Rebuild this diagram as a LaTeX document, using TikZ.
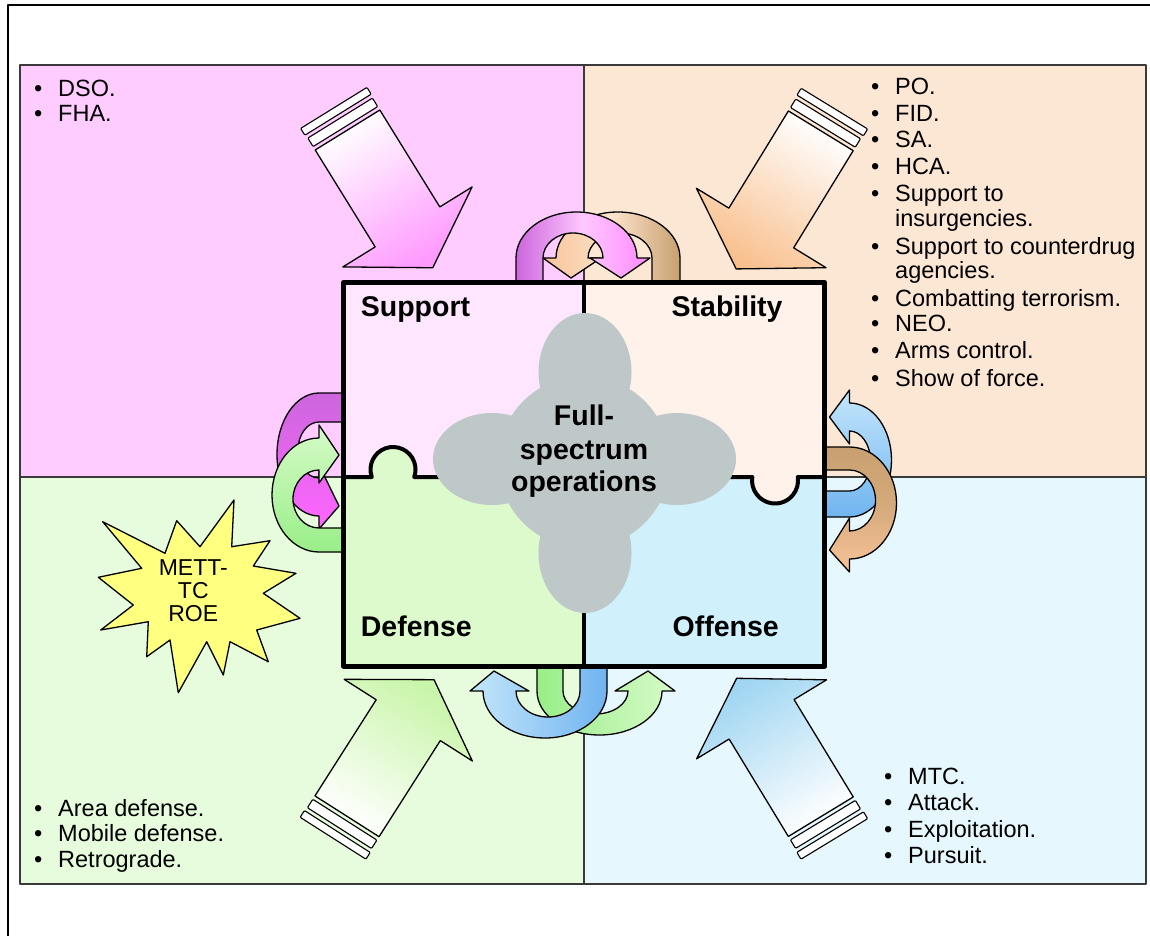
\documentclass[tikz,border=0pt]{standalone}
\usepackage{fontspec}
\setmainfont{Liberation Sans}
\usetikzlibrary{calc}
\definecolor{panelTL}{HTML}{FFCCFF}
\definecolor{panelTR}{HTML}{FCE6D4}
\definecolor{panelBL}{HTML}{E6FCDC}
\definecolor{panelBR}{HTML}{E6F8FD}
\definecolor{supC}{HTML}{FFE6FF}
\definecolor{stabC}{HTML}{FEF2EA}
\definecolor{defC}{HTML}{DDFACC}
\definecolor{offC}{HTML}{D0F1FB}
\definecolor{cloudC}{HTML}{BFC8C8}
\definecolor{starC}{HTML}{FFFF80}
\definecolor{purpC}{HTML}{CC66DD}
\definecolor{pinkL}{HTML}{FFC8FF}
\definecolor{pinkH}{HTML}{FF88FF}
\definecolor{magC}{HTML}{FF66FF}
\definecolor{brownC}{HTML}{C8A070}
\definecolor{peachH}{HTML}{F8C49A}
\definecolor{peachL}{HTML}{FDE3CC}
\definecolor{greenC}{HTML}{99EE88}
\definecolor{lgreenH}{HTML}{D6FBC8}
\definecolor{blueC}{HTML}{70B4F0}
\definecolor{lblueH}{HTML}{C4E6FB}
\definecolor{bigPink}{HTML}{FF99FF}
\definecolor{bigPeach}{HTML}{F9C08E}
\definecolor{bigGreen}{HTML}{C8F5A8}
\definecolor{bigBlue}{HTML}{A0D6F2}
\definecolor{panelLine}{HTML}{3A3A3A}
\newcommand\listfont{\fontsize{23.5}{27}\selectfont}
\newcommand\lblfont{\fontsize{28.5}{33}\selectfont\bfseries}
% frame maps for curved arrows: u along edge, v away from square
\def\mapT{\pgfmathsetmacro\cPx{\cUu}\pgfmathsetmacro\cPy{280-\cVv}}
\def\mapB{\pgfmathsetmacro\cPx{\cUu}\pgfmathsetmacro\cPy{669+\cVv}}
\def\mapL{\pgfmathsetmacro\cPx{341-\cVv}\pgfmathsetmacro\cPy{\cUu}}
\def\mapR{\pgfmathsetmacro\cPx{827.5+\cVv}\pgfmathsetmacro\cPy{\cUu}}
\newcommand\cpnt[3]{\pgfmathsetmacro\cUu{#2}\pgfmathsetmacro\cVv{#3}\csname map\cFr\endcsname\coordinate (#1) at (\cPx,\cPy);}
\newcommand\curvarr[8]{%
 \def\cFr{#1}%
 \pgfmathsetmacro\cAo{#2}\pgfmathsetmacro\cAi{#3}\pgfmathsetmacro\cHo{#4}\pgfmathsetmacro\cHi{#5}%
 \pgfmathsetmacro\cTp{#6}\pgfmathsetmacro\cHh{#7}%
 \pgfmathsetmacro\cMo{(\cAo+\cHo)/2}\pgfmathsetmacro\cMi{(\cAi+\cHi)/2}%
 \pgfmathsetmacro\cHn{\cHh-21}%
 \pgfmathsetmacro\cSg{(\cHo>\cHi)?1:-1}%
 \cpnt{o0}{\cAo}{-4}\cpnt{o1}{\cAo}{22}\cpnt{oc1}{\cAo}{22+0.552*(\cHh-22)}%
 \cpnt{oc2}{\cMo+0.552*(\cAo-\cMo)}{\cHh}\cpnt{o2}{\cMo}{\cHh}%
 \cpnt{oc3}{\cMo+0.552*(\cHo-\cMo)}{\cHh}\cpnt{oc4}{\cHo}{22+0.552*(\cHh-22)}\cpnt{o4}{\cHo}{22}%
 \cpnt{h1}{\cHo+\cSg*13}{22}\cpnt{h2}{\cTp}{2}\cpnt{h3}{\cHi-\cSg*13}{22}%
 \cpnt{i0}{\cHi}{22}\cpnt{ic1}{\cHi}{22+0.552*(\cHn-22)}\cpnt{ic2}{\cMi+0.552*(\cHi-\cMi)}{\cHn}%
 \cpnt{i1}{\cMi}{\cHn}\cpnt{ic3}{\cMi+0.552*(\cAi-\cMi)}{\cHn}\cpnt{ic4}{\cAi}{22+0.552*(\cHn-22)}%
 \cpnt{i2}{\cAi}{22}\cpnt{i3}{\cAi}{-4}%
 \path[draw=black, line width=1.3pt, #8] (o0) -- (o1) .. controls (oc1) and (oc2) .. (o2) .. controls (oc3) and (oc4) .. (o4) -- (h1) -- (h2) -- (h3) -- (i0) .. controls (ic1) and (ic2) .. (i1) .. controls (ic3) and (ic4) .. (i2) -- (i3) -- cycle;
}
\newcommand\bigarr[5]{%
 \coordinate (#1) at #2;
 \path[draw=black, line width=1.3pt, top color=white, bottom color=#4, shading angle=#5]
  ($(#1)+({#3+90}:38)$) -- ($(#1)+(#3:114)+({#3+90}:38)$) -- ($(#1)+(#3:114)+({#3+90}:76)$) -- ($(#1)+(#3:162)$) -- ($(#1)+(#3:114)+({#3-90}:76)$) -- ($(#1)+(#3:114)+({#3-90}:38)$) -- ($(#1)+({#3-90}:38)$) -- cycle;
 \draw[fill=white, line width=1.1pt, rounded corners=1pt] ($(#1)+(#3:-4)+({#3+90}:38)$) -- ($(#1)+(#3:-14)+({#3+90}:38)$) -- ($(#1)+(#3:-14)+({#3-90}:38)$) -- ($(#1)+(#3:-4)+({#3-90}:38)$) -- cycle;
 \draw[fill=white, line width=1.1pt, rounded corners=1pt] ($(#1)+(#3:-18)+({#3+90}:39)$) -- ($(#1)+(#3:-26)+({#3+90}:39)$) -- ($(#1)+(#3:-26)+({#3-90}:39)$) -- ($(#1)+(#3:-18)+({#3-90}:39)$) -- cycle;
}
\tikzset{
 lst/.style={anchor=base west, inner sep=0pt, font=\listfont},
 lbl/.style={inner sep=0pt, font=\lblfont},
 panel/.style={draw=panelLine, line width=1.2pt}
}
\newcommand\bul[4]{\node[lst] (#1) at (#2,#3) {#4}; \node[lst] (#1b) at ({#2-24},#3) {•};}
\begin{document}
\begin{tikzpicture}[x=1pt,y=-1pt,line join=round]
\useasboundingbox (0,0) rectangle (1150,936);
\fill[white] (0,0) rectangle (1150,936);
\draw[line width=2pt] (7.5,936) -- (7.5,5) -- (1150,5);
% panels
\fill[panelTL] (20,65) rectangle (584,477);
\fill[panelTR] (584,65) rectangle (1146,477);
\fill[panelBL] (20,477) rectangle (584,884);
\fill[panelBR] (584,477) rectangle (1146,884);
\draw[panel] (20,65) rectangle (1146,884);
\draw[panel] (584,65) -- (584,884);
\draw[panel] (20,477) -- (1146,477);
% big arrows
\bigarr{tl}{(347.5,130)}{58.25}{bigPink}{31.75}
\bigarr{tr}{(820.8,130.8)}{121.5}{bigPeach}{-31.5}
\bigarr{bl}{(347,816.3)}{-57.5}{bigGreen}{147.5}
\bigarr{br}{(820.8,816.7)}{-121.3}{bigBlue}{211.3}
% curved arrows
\curvarr{T}{680}{652}{556}{588}{571}{68}{left color=peachH, right color=brownC, middle color=peachL}
\curvarr{T}{516}{543}{637}{603}{621}{68}{left color=purpC, right color=pinkH, middle color=pinkL}
\curvarr{L}{393}{422}{516}{478}{506}{64}{top color=purpC, bottom color=magC}
\curvarr{L}{552}{528}{438}{470}{455}{69}{top color=lgreenH, bottom color=greenC}
\curvarr{R}{517}{491}{403}{431}{417}{64}{top color=lblueH, bottom color=blueC}
\curvarr{R}{447}{470}{559}{531}{550}{69}{top color=brownC, bottom color=peachH, middle color=brownC!70!peachH}
\curvarr{B}{537}{563}{662}{628}{648}{66}{left color=greenC, right color=lgreenH}
\curvarr{B}{607}{580}{483}{516}{494}{69}{left color=lblueH, right color=blueC}
% central square
\fill[supC] (343.5,282.5) rectangle (584,477);
\fill[stabC] (584,282.5) rectangle (824.8,477);
\fill[defC] (343.5,477) rectangle (584,666);
\fill[offC] (584,477) rectangle (824.8,666);
\fill[defC] (393,469.5) circle (22.5);
\fill[stabC] (775,480.5) circle (23);
\draw[line width=4pt] (584,282.5) -- (584,666);
\draw[line width=4pt] (343.5,477) -- (371.8,477) arc[start angle=160.5, end angle=379.5, radius=22.5] -- (752.3,477) arc[start angle=188.75, end angle=-8.75, radius=23] -- (824.8,477);
% cloud
\fill[cloudC] (584,462) circle (86);
\fill[cloudC] (585,372) ellipse [x radius=46.5, y radius=59];
\fill[cloudC] (585,553) ellipse [x radius=46.5, y radius=60];
\fill[cloudC] (492,459) ellipse [x radius=59, y radius=46];
\fill[cloudC] (677,459) ellipse [x radius=59, y radius=46];
\draw[line width=5pt] (343.5,282.5) rectangle (824.8,666);
% labels
\node[lbl, anchor=base west] (sup) at (360.7,316.7) {Support};
\node[lbl, anchor=base east] (stab) at (782.7,316.7) {Stability};
\node[lbl, anchor=base west] (def) at (360.7,636.7) {Defense};
\node[lbl, anchor=base east] (off) at (779,636.7) {Offense};
\node[lbl, anchor=base] (fs1) at (584,425) {Full-};
\node[lbl, anchor=base] (fs2) at (584,459) {spectrum};
\node[lbl, anchor=base] (fs3) at (584,491.7) {operations};
% lists
\bul{d1}{58}{96.7}{DSO.}
\bul{d2}{58}{121.7}{FHA.}
\bul{s1}{895}{95}{PO.}
\bul{s2}{895}{121.5}{FID.}
\bul{s3}{895}{148}{SA.}
\bul{s4}{895}{174.5}{HCA.}
\bul{s5}{895}{201.5}{Support to}
\node[lst] (s5x) at (895,226) {insurgencies.};
\bul{s6}{895}{254}{Support to counterdrug}
\node[lst] (s6x) at (895,278) {agencies.};
\bul{s7}{895}{306}{Combatting terrorism.}
\bul{s8}{895}{331.5}{NEO.}
\bul{s9}{895}{358}{Arms control.}
\bul{s10}{895}{386}{Show of force.}
\bul{f1}{58}{816.5}{Area defense.}
\bul{f2}{58}{841.5}{Mobile defense.}
\bul{f3}{58}{867}{Retrograde.}
\bul{o1}{908}{784}{MTC.}
\bul{o2}{908}{810}{Attack.}
\bul{o3}{908}{837}{Exploitation.}
\bul{o4}{908}{863}{Pursuit.}
% star
\draw[fill=starC, line width=1.3pt] (234,500) -- (231.7,546.7) -- (270,540.7) -- (253.3,566) -- (296,573.3) -- (263.3,593.3) -- (300,618.3) -- (256.7,630) -- (268.3,661.7) -- (230,641.7) -- (223.3,675) -- (206.7,641.7) -- (178.3,692.7) -- (170,640) -- (146.7,656.7) -- (148.3,621.7) -- (100.7,630) -- (133.3,605) -- (98.3,577.3) -- (141.7,568.3) -- (102.7,521.7) -- (165,553.3) -- (176.7,520.7) -- (200,546.7) -- cycle;
\node[lst, anchor=base, font=\fontsize{23}{23}\selectfont] (m1) at (193.3,575) {METT-};
\node[lst, anchor=base, font=\fontsize{23}{23}\selectfont] (m2) at (193.3,598) {TC};
\node[lst, anchor=base, font=\fontsize{23}{23}\selectfont] (m3) at (193.3,621.7) {ROE};
\end{tikzpicture}
\end{document}
